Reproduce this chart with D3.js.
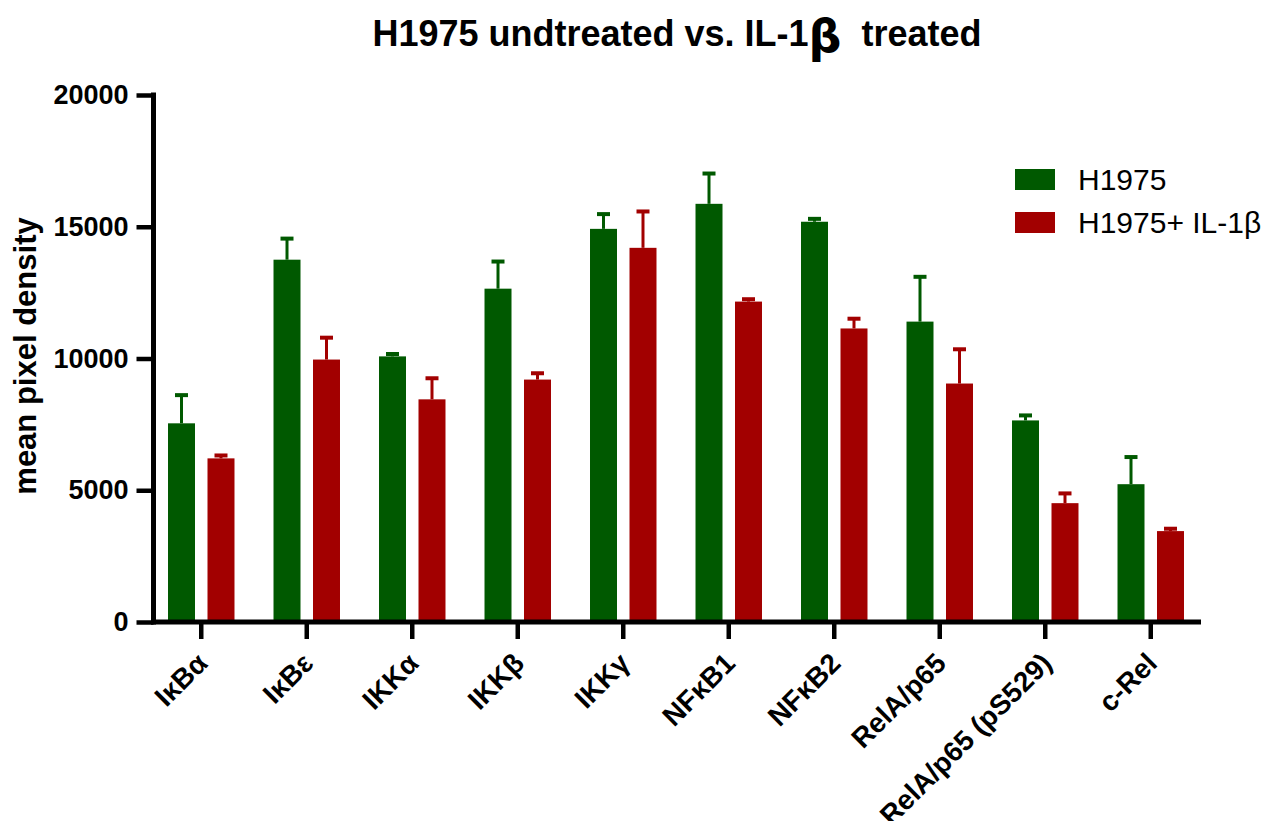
<!DOCTYPE html>
<html>
<head>
<meta charset="utf-8">
<script src="https://cdn.jsdelivr.net/npm/d3@7"></script>
<style>
  html, body { margin: 0; padding: 0; background: #fff; }
  svg { display: block; font-family: "Liberation Sans", Arial, Helvetica, sans-serif; }
</style>
</head>
<body>
<svg id="chart" width="1270" height="821"></svg>
<script>
// Proteins measured
const categories = ["IκBα", "IκBε", "IKKα", "IKKβ", "IKKγ", "NFκB1", "NFκB2", "RelA/p65", "RelA/p65 (pS529)", "c-Rel"];
const seriesNames = ["H1975", "H1975+ IL-1β"];

// Mean pixel density per protein
const untreatedMean = [7540, 13750, 10080, 12650, 14920, 15870, 15190, 11400, 7650, 5230];
const treatedMean   = [6210, 9960, 8450, 9200, 14200, 12160, 11140, 9050, 4510, 3450];

// Upper error (SD) per protein
const untreatedErr = [1070, 800, 90, 1030, 560, 1150, 110, 1700, 190, 1030];
const treatedErr   = [110, 830, 800, 240, 1380, 90, 370, 1300, 370, 90];

const yTicks = [0, 5000, 10000, 15000, 20000];
const colors = ["#005900", "#a20000"];

const svg = d3.select("#chart");

const x = d3.scaleBand().domain(categories).range([148.5, 1203.5]).paddingInner(0).paddingOuter(0);
const xSub = d3.scaleBand().domain(seriesNames).range([0, x.bandwidth()]).paddingInner(0.3165).paddingOuter(0.494);
const y = d3.scaleLinear().domain([0, 20000]).range([622, 95]);

const rows = categories.map((c, i) => ({
  cat: c,
  vals: [
    { s: seriesNames[0], v: untreatedMean[i], e: untreatedErr[i], color: colors[0] },
    { s: seriesNames[1], v: treatedMean[i], e: treatedErr[i], color: colors[1] }
  ]
}));

// Bars and upward error bars
const groups = svg.append("g").selectAll("g")
  .data(rows).join("g")
  .attr("transform", d => `translate(${x(d.cat)},0)`);

const items = groups.selectAll("g").data(d => d.vals).join("g");

items.append("line")
  .attr("x1", d => xSub(d.s) + xSub.bandwidth() / 2)
  .attr("x2", d => xSub(d.s) + xSub.bandwidth() / 2)
  .attr("y1", d => y(d.v))
  .attr("y2", d => y(d.v + d.e))
  .attr("stroke", d => d.color)
  .attr("stroke-width", 3);

items.append("line")
  .attr("x1", d => xSub(d.s) + xSub.bandwidth() / 2 - 6.5)
  .attr("x2", d => xSub(d.s) + xSub.bandwidth() / 2 + 6.5)
  .attr("y1", d => y(d.v + d.e))
  .attr("y2", d => y(d.v + d.e))
  .attr("stroke", d => d.color)
  .attr("stroke-width", 4);

items.append("rect")
  .attr("x", d => xSub(d.s))
  .attr("width", xSub.bandwidth())
  .attr("y", d => y(d.v))
  .attr("height", d => y(0) - y(d.v))
  .attr("fill", d => d.color);

// Y axis
const yAxis = svg.append("g")
  .attr("transform", "translate(153.5,0)")
  .call(d3.axisLeft(y).tickValues(yTicks).tickFormat(d3.format("d")).tickSize(17).tickSizeOuter(0).tickPadding(8));
yAxis.select(".domain").attr("stroke", "#000").attr("stroke-width", 5)
  .attr("d", `M0,${y(20000) - 2.5}V${y(0) + 2.5}`);
yAxis.selectAll(".tick line").attr("stroke", "#000").attr("stroke-width", 4.5);
yAxis.selectAll(".tick text")
  .attr("font-size", 27).attr("font-weight", "bold").attr("fill", "#000")
  .attr("font-family", "Liberation Sans, Arial, sans-serif");

// X axis
const xAxis = svg.append("g")
  .attr("transform", `translate(0,${y(0)})`)
  .call(d3.axisBottom(x).tickSize(17).tickSizeOuter(0));
xAxis.select(".domain").attr("stroke", "#000").attr("stroke-width", 5)
  .attr("d", "M151,0H1201");
xAxis.selectAll(".tick line").attr("stroke", "#000").attr("stroke-width", 4.5);
xAxis.selectAll(".tick text")
  .attr("font-size", 28).attr("font-weight", "bold").attr("fill", "#000")
  .attr("font-family", "Liberation Sans, Arial, sans-serif")
  .attr("text-anchor", "end")
  .attr("dy", null)
  .attr("y", 0)
  .attr("transform", "translate(8,43) rotate(-45)");

// Y axis title
svg.append("text")
  .attr("transform", "translate(36,356) rotate(-90)")
  .attr("text-anchor", "middle")
  .attr("font-size", 31).attr("font-weight", "bold")
  .text("mean pixel density");

// Title
const title = svg.append("text")
  .attr("x", 677).attr("y", 46)
  .attr("text-anchor", "middle")
  .attr("font-size", 36).attr("font-weight", "bold")
  .style("white-space", "pre");
title.append("tspan").text("H1975 undtreated vs. IL-1");
title.append("tspan").attr("font-size", 46).attr("font-family", "DejaVu Sans").attr("dy", 6).text("β");
title.append("tspan").attr("dy", -6).text("  treated");

// Legend
const legend = svg.append("g").selectAll("g")
  .data(seriesNames).join("g")
  .attr("transform", (d, i) => `translate(1015,${169 + i * 43})`);
legend.append("rect").attr("width", 40).attr("height", 21).attr("fill", (d, i) => colors[i]);
legend.append("text")
  .attr("x", 63).attr("y", 21)
  .attr("font-size", 30)
  .text(d => d);
</script>
</body>
</html>
